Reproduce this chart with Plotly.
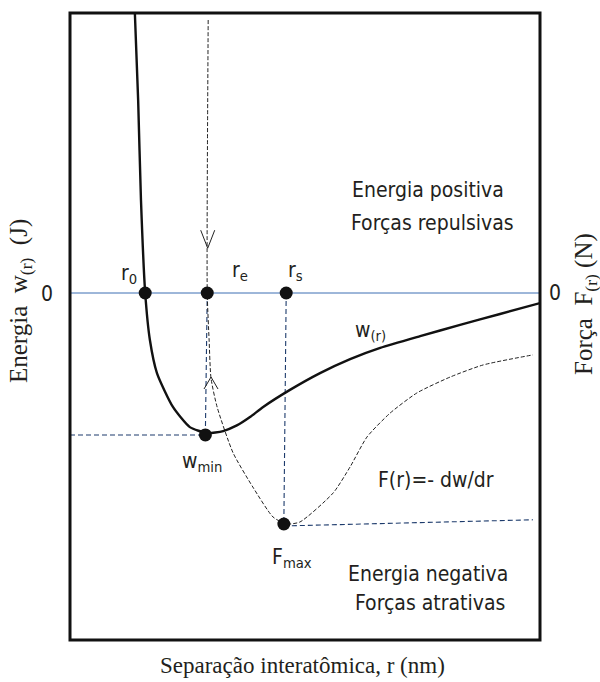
import plotly.graph_objects as go

# ---- data (schematic) ----
w_r = [1.38, 1.45, 1.51, 1.60, 1.70, 1.85, 2.19, 2.55, 2.92, 3.26, 3.55, 3.83, 4.11, 4.68, 5.32, 5.96, 6.60, 7.45, 8.30, 9.15, 10.0]
w_val = [10.0, 6.89, 3.32, 0.0, -1.68, -2.86, -4.07, -4.79, -5.0, -4.93, -4.73, -4.43, -4.07, -3.46, -2.86, -2.36, -1.96, -1.54, -1.14, -0.75, -0.36]

f_r = [2.94, 2.92, 2.96, 3.00, 3.13, 3.47, 3.89, 4.32, 4.60, 4.89, 5.60, 5.96, 6.32, 6.81, 7.38, 8.09, 8.79, 9.85]
f_val = [9.75, 0.0, -1.68, -3.04, -4.07, -5.71, -6.93, -8.0, -8.25, -8.18, -7.14, -6.21, -5.14, -4.29, -3.57, -3.0, -2.57, -2.21]

pt_names = ["r0", "re", "rs", "wmin", "Fmax"]
pt_r = [1.60, 2.92, 4.60, 2.88, 4.55]
pt_val = [0.0, 0.0, 0.0, -5.07, -8.25]

x_range = [0, 10]
y_range = [-12.393, 10.0]

# plot box in pixels
L, R, T, B = 70, 540, 13, 640
W, H = 600, 682

def px(x):
    return (x - L) / (R - L)

def py(y):
    return (B - y) / (B - T)

dx = (x_range[1] - x_range[0]) / (R - L)   # data per pixel
dy = (y_range[1] - y_range[0]) / (B - T)

fig = go.Figure()

NAVY = "#1d3b6c"
SANS = "Liberation Sans Narrow, DejaVu Sans Condensed, Arial Narrow, sans-serif"
SERIF = "Liberation Serif, Times New Roman, serif"

# zero line
fig.add_trace(go.Scatter(x=x_range, y=[0, 0], mode="lines",
                         line=dict(color="#3d6fb3", width=1), hoverinfo="skip"))

# blue dashed guide lines
guides = [
    ([x_range[0], pt_r[3]], [pt_val[3], pt_val[3]]),
    ([pt_r[1], pt_r[3]], [0, pt_val[3]]),
    ([pt_r[2], pt_r[4]], [0, pt_val[4]]),
    ([pt_r[4], 9.85], [-8.32, -8.1]),
]
for gx, gy in guides:
    fig.add_trace(go.Scatter(x=gx, y=gy, mode="lines",
                             line=dict(color=NAVY, width=1.1, dash="5px,3px"),
                             hoverinfo="skip"))

# force curve (dashed)
fig.add_trace(go.Scatter(x=f_r, y=f_val, mode="lines",
                         line=dict(color="#222222", width=1, dash="4px,2px", shape="spline", smoothing=0.6),
                         hoverinfo="skip"))

# arrowheads (open V)
arrows = [((2.93, 1.60), "down"), ((3.00, -3.00), "up")]
for (ax_, ay_), d in arrows:
    s = 1 if d == "down" else -1
    arm = 18 if d == "down" else 12
    xs = [ax_ - 7 * dx, ax_, ax_ + 7 * dx]
    ys = [ay_ + s * arm * dy, ay_, ay_ + s * arm * dy]
    fig.add_trace(go.Scatter(x=xs, y=ys, mode="lines",
                             line=dict(color="#222222", width=1), hoverinfo="skip"))

# energy curve
fig.add_trace(go.Scatter(x=w_r, y=w_val, mode="lines",
                         line=dict(color="#111111", width=2.4, shape="spline", smoothing=0.6),
                         hoverinfo="skip"))

# points
fig.add_trace(go.Scatter(x=pt_r, y=pt_val, mode="markers",
                         marker=dict(color="#111111", size=13), hoverinfo="skip"))

ann = []

def label(text, x, y, size=21, family=SANS, angle=0):
    ann.append(dict(text=text, x=px(x), y=py(y), xref="paper", yref="paper",
                    showarrow=False, xanchor="center", yanchor="middle",
                    textangle=angle, font=dict(family=family, size=size, color="#231f20")))

label("r<sub>0</sub>", 129, 274)
label("r<sub>e</sub>", 240, 271)
label("r<sub>s</sub>", 295, 271)
label("w<sub>(r)</sub>", 370, 331)
label("w<sub>min</sub>", 202, 462)
label("F<sub>max</sub>", 292, 558)
label("F(r)=- dw/dr", 436, 480)
label("Energia positiva", 428, 190)
label("Forças repulsivas", 432, 223)
label("Energia negativa", 428, 574)
label("Forças atrativas", 430, 603)
label("0", 47, 294)
label("0", 555, 293)
label("Separação interatômica, r (nm)", 302, 665, size=23, family=SERIF)
label("Energia  w<sub>(r)</sub>  (J)", 21, 301, size=25, family=SERIF, angle=-90)
label("Força  F<sub>(r)</sub> (N)", 585, 304, size=25, family=SERIF, angle=-90)

fig.update_layout(
    width=W, height=H,
    margin=dict(l=L, r=W - R, t=T, b=H - B),
    paper_bgcolor="white", plot_bgcolor="white",
    showlegend=False,
    annotations=ann,
    xaxis=dict(range=x_range, showgrid=False, zeroline=False, showticklabels=False, ticks=""),
    yaxis=dict(range=y_range, showgrid=False, zeroline=False, showticklabels=False, ticks=""),
    shapes=[dict(type="rect", xref="paper", yref="paper", x0=0, y0=0, x1=1, y1=1,
                 line=dict(color="#111111", width=3))],
)

fig.write_html("out.html")
